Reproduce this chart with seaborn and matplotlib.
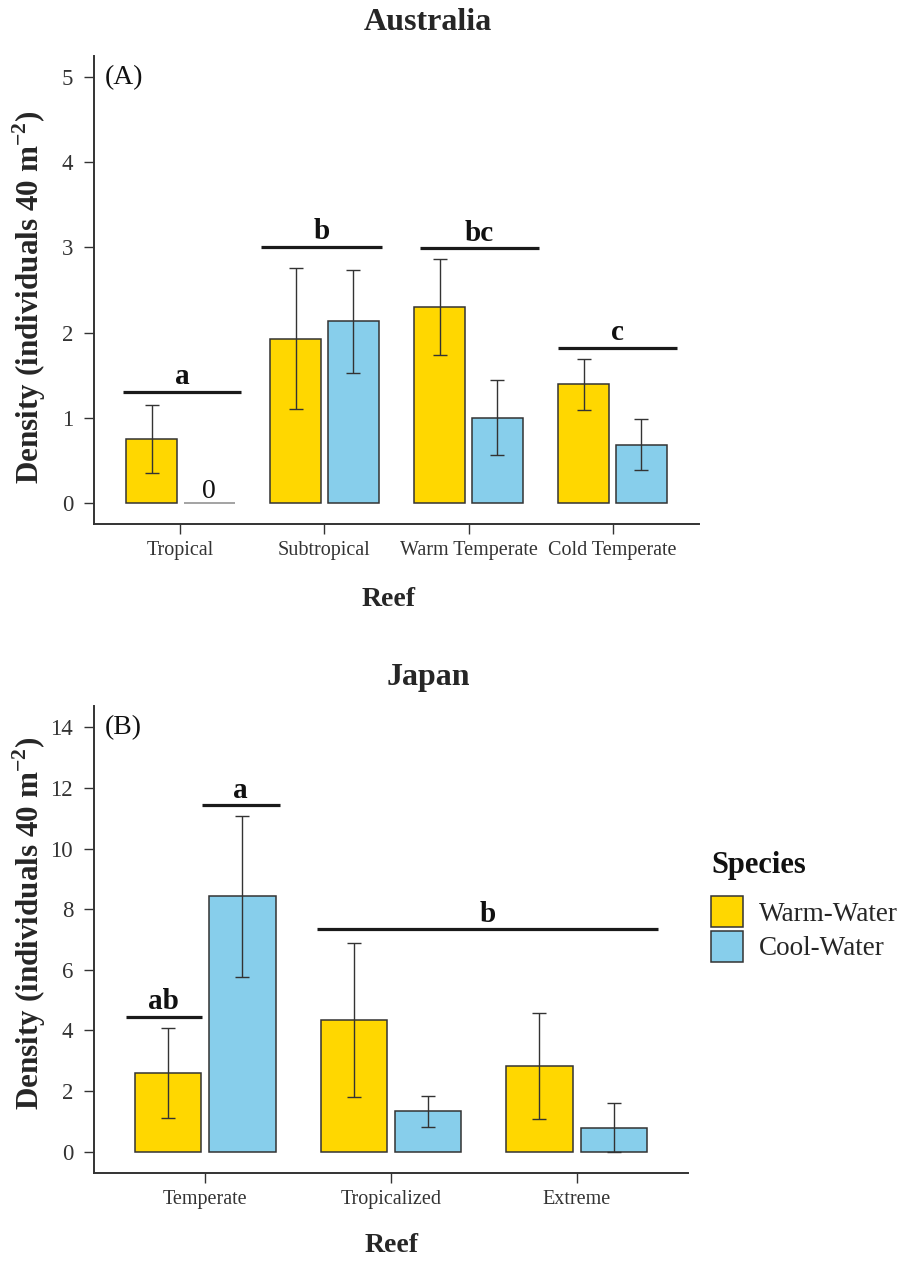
import matplotlib
matplotlib.use("Agg")
import matplotlib.pyplot as plt
import numpy as np
import pandas as pd
import seaborn as sns

# ---- Australia (panel A) ----
aus_reefs = ["Tropical", "Subtropical", "Warm Temperate", "Cold Temperate"]
aus_warm = [0.75, 1.93, 2.30, 1.39]
aus_warm_se = [0.40, 0.83, 0.56, 0.30]
aus_cool = [0.00, 2.13, 1.00, 0.68]
aus_cool_se = [0.00, 0.60, 0.44, 0.30]
aus_letters = ["a", "b", "bc", "c"]
aus_letter_y = [1.30, 3.01, 2.99, 1.82]
aus_letter_x0 = [-0.40, 0.56, 1.66, 2.62]
aus_letter_x1 = [0.42, 1.40, 2.49, 3.45]
aus_yticks = [0, 1, 2, 3, 4, 5]

# ---- Japan (panel B) ----
jpn_reefs = ["Temperate", "Tropicalized", "Extreme"]
jpn_warm = [2.61, 4.35, 2.82]
jpn_warm_se = [1.48, 2.55, 1.75]
jpn_cool = [8.42, 1.33, 0.80]
jpn_cool_se = [2.65, 0.51, 0.80]
jpn_letters = ["ab", "a", "b"]
jpn_letter_y = [4.46, 11.43, 7.33]
jpn_letter_x0 = [-0.43, -0.02, 0.60]
jpn_letter_x1 = [-0.02, 0.40, 2.44]
jpn_yticks = [0, 2, 4, 6, 8, 10, 12, 14]

species = ["Warm-Water", "Cool-Water"]
palette = {"Warm-Water": "#FFD700", "Cool-Water": "#87CEEB"}

sns.set_theme(style="ticks")
plt.rcParams["font.family"] = ["Liberation Serif", "DejaVu Serif"]
plt.rcParams["mathtext.fontset"] = "custom"
plt.rcParams["mathtext.rm"] = "Liberation Serif"
plt.rcParams["mathtext.bf"] = "Liberation Serif:bold"

DARK = "#333333"
W, H = 904, 1262
fig = plt.figure(figsize=(W / 100, H / 100), dpi=100)


def px_axes(left, top, right, bottom):
    return fig.add_axes([left / W, 1 - bottom / H, (right - left) / W, (bottom - top) / H])


def draw_panel(ax, reefs, warm, warm_se, cool, cool_se, letters, ly, lx0, lx1,
               yticks, tag, show_legend):
    n = len(reefs)
    df = pd.DataFrame({
        "Reef": reefs * 2,
        "Species": [species[0]] * n + [species[1]] * n,
        "Density": warm + cool,
        "SE": warm_se + cool_se,
    })
    sns.barplot(data=df, x="Reef", y="Density", hue="Species", hue_order=species,
                order=reefs, palette=palette, saturation=1, errorbar=None, gap=0.11,
                edgecolor=DARK, linewidth=1.1, legend=show_legend, ax=ax)

    # error bars and zero-value labels
    for container, sp in zip(ax.containers, species):
        sub = df[df["Species"] == sp].reset_index(drop=True)
        for bar, (_, row) in zip(container, sub.iterrows()):
            xc = bar.get_x() + bar.get_width() / 2
            if row["SE"] > 0:
                ax.errorbar(xc, row["Density"], yerr=row["SE"], color=DARK,
                            lw=1.0, capsize=4.7, capthick=1.0, zorder=4)
            if row["Density"] == 0:
                bar.set_edgecolor("#8a8a8a")
                ax.text(xc, row["Density"] + yticks[-1] * 0.012, f"{row['Density']:g}",
                        ha="center", va="baseline", fontsize=20, color="#111111")

    # significance groupings
    for lab, y, x0, x1 in zip(letters, ly, lx0, lx1):
        ax.hlines(y, x0, x1, color="#1a1a1a", lw=2.3, zorder=5)
        ax.annotate(lab, xy=((x0 + x1) / 2, y), xytext=(0, 5.5),
                    textcoords="offset points", ha="center", va="baseline",
                    fontsize=21, fontweight="bold", color="#111111")

    span = yticks[-1] - yticks[0]
    ax.set_ylim(yticks[0] - 0.05 * span, yticks[-1] + 0.05 * span)
    ax.set_xlim(-0.6, n - 1 + 0.6)
    ax.set_yticks(yticks)
    ax.set_xlabel("")
    ax.set_ylabel("")
    sns.despine(ax=ax)
    for s in ("left", "bottom"):
        ax.spines[s].set_color(DARK)
        ax.spines[s].set_linewidth(1.4)
    ax.tick_params(axis="both", length=7.5, width=1.0, color=DARK, labelcolor=DARK)
    ax.tick_params(axis="x", labelsize=14.5, pad=5)
    ax.tick_params(axis="y", labelsize=16.5, pad=7.5)
    ax.annotate(tag, xy=(0.018, yticks[-1]), xycoords=("axes fraction", "data"),
                ha="left", va="center", fontsize=20, color="#111111")


ax1 = px_axes(94, 56, 699, 524)
draw_panel(ax1, aus_reefs, aus_warm, aus_warm_se, aus_cool, aus_cool_se,
           aus_letters, aus_letter_y, aus_letter_x0, aus_letter_x1,
           aus_yticks, "(A)", False)

ax2 = px_axes(94, 706, 688, 1173)
draw_panel(ax2, jpn_reefs, jpn_warm, jpn_warm_se, jpn_cool, jpn_cool_se,
           jpn_letters, jpn_letter_y, jpn_letter_x0, jpn_letter_x1,
           jpn_yticks, "(B)", True)

# species legend to the right of panel B
handles, labels = ax2.get_legend_handles_labels()
if ax2.get_legend() is not None:
    ax2.get_legend().remove()
fig.text(711 / W, 1 - 866 / H, "Species", ha="left", va="center",
         fontsize=22, fontweight="bold", color="#111111")
fig.legend(handles, labels, loc="upper left",
           bbox_to_anchor=(711 / W, 1 - 896 / H), frameon=False, fontsize=19.5,
           handlelength=1.18, handleheight=1.40, handletextpad=0.6,
           labelspacing=0.12, borderpad=0, borderaxespad=0)

# titles and axis labels
fig.text(428 / W, 1 - 22 / H, "Australia", ha="center", va="center",
         fontsize=23, fontweight="bold")
fig.text(428 / W, 1 - 677 / H, "Japan", ha="center", va="center",
         fontsize=23, fontweight="bold")
fig.text(389 / W, 1 - 600 / H, "Reef", ha="center", va="center",
         fontsize=20, fontweight="bold")
fig.text(392 / W, 1 - 1246 / H, "Reef", ha="center", va="center",
         fontsize=20, fontweight="bold")
ylab = "Density (individuals 40 m$^{\\mathregular{-2}}$)"
fig.text(29 / W, 1 - 297 / H, ylab, rotation=90, ha="center", va="center",
         fontsize=22.4, fontweight="bold")
fig.text(29 / W, 1 - 923 / H, ylab, rotation=90, ha="center", va="center",
         fontsize=22.4, fontweight="bold")

fig.savefig("out.png", dpi=100, facecolor="white")
